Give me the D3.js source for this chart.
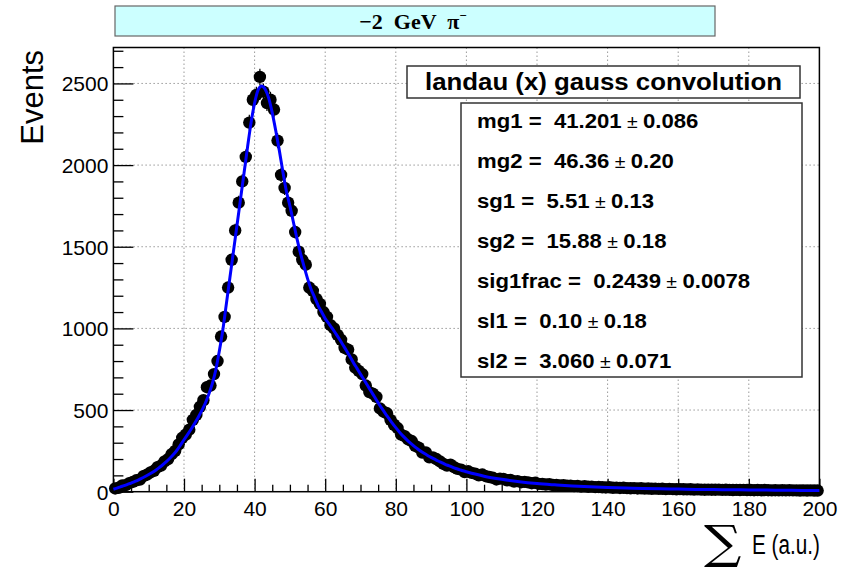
<!DOCTYPE html>
<html><head><meta charset="utf-8">
<script src="https://cdn.jsdelivr.net/npm/d3@7"></script>
<style>body{margin:0;background:#fff} svg{display:block}</style>
</head><body>
<svg id="c" width="844" height="572"></svg>
<script>
// ---------------- data ----------------
const binWidth = 1;
const events = [
  20, 24, 38, 40, 52, 60, 70, 74, 95, 104,
  118, 128, 150, 160, 185, 200, 230, 250, 290, 330,
  350, 380, 440, 470, 520, 560, 640, 650, 720, 800,
  950, 1070, 1250, 1420, 1600, 1770, 1900, 2050, 2260, 2400,
  2430, 2540, 2450, 2380, 2400, 2340, 2150, 1940, 1860, 1770,
  1720, 1590, 1470, 1420, 1390, 1250, 1230, 1180, 1150, 1100,
  1070, 1020, 1000, 960, 930, 880, 870, 810, 760, 740,
  720, 650, 610, 600, 580, 510, 490, 480, 440, 410,
  390, 350, 340, 320, 310, 280, 270, 240, 240, 210,
  210, 200, 185, 170, 160, 165, 150, 140, 135, 120,
  125, 115, 110, 100, 105, 95, 90, 85, 75, 80,
  78, 70, 72, 62, 65, 58, 60, 57, 52, 55,
  48, 47, 44, 46, 41, 42, 38, 40, 36, 37,
  34, 35, 31, 33, 30, 31, 28, 29, 27, 26,
  27, 24, 25, 23, 24, 22, 21, 22, 20, 21,
  19, 20, 18, 19, 17, 18, 16, 17, 16, 15,
  16, 15, 14, 15, 13, 14, 13, 12, 13, 12,
  12, 13, 11, 12, 11, 10, 11, 10, 11, 10,
  10, 9, 10, 9, 10, 9, 8, 9, 8, 9,
  8, 9, 8, 8, 7, 8, 7, 8, 7, 7
];
const binCenters = events.map((_, i) => (i + 0.5) * binWidth);

const fitE = [0,1,2,3,4,5,6,7,8,9,10,11,12,13,14,15,16,17,18,19,20,21,22,23,24,25,26,27,28,29,30,
  31,32,33,34,35,36,37,38,39,40,41,42,43,44,45,46,47,48,49,50,51,52,53,54,55,56,57,58,59,60,
  61,62,63,64,65,66,67,68,69,70,71,72,73,74,75,76,77,78,79,80,81,82,83,84,85,86,87,88,89,90,
  91,92,93,94,95,96,97,98,99,100,105,110,115,120,125,130,135,140,145,150,155,160,165,170,175,180,185,190,195,200];
const fitEvents = [15,22,30,37,45,53,62,71,82,93,105,118,132,148,165,184,205,228,254,285,318,350,382,418,455,495,540,595,660,745,860,
  990,1150,1310,1470,1630,1790,1950,2110,2260,2380,2460,2485,2465,2410,2320,2210,2090,1960,1840,1750,1650,1550,1460,1380,1305,1240,1190,1140,1100,1060,
  1030,1000,968,935,900,865,828,790,755,720,685,650,615,580,545,512,480,450,420,392,366,342,320,300,282,265,249,235,222,210,
  199,188,178,168,159,150,142,135,128,122,95,76,61,50,42,35,30,26,23,20,18,16,14,13,12,11,10,9,8,8];

const xTicks = [0,20,40,60,80,100,120,140,160,180,200];
const yTicks = [0,500,1000,1500,2000,2500];
const paramNames  = ["mg1", "mg2", "sg1", "sg2", "sig1frac", "sl1", "sl2"];
const paramValues = ["41.201", "46.36", "5.51", "15.88", "0.2439", "0.10", "3.060"];
const paramErrors = ["0.086", "0.20", "0.13", "0.18", "0.0078", "0.18", "0.071"];
const titleText = "−2  GeV  π";
const legendTitle = "landau (x) gauss convolution";

// ---------------- chart ----------------
const svg = d3.select("#c");
const L = 113.4, R = 819.4, T = 47.5, B = 491.7;
const x = d3.scaleLinear().domain([0, 200]).range([L, R]);
const y = d3.scaleLinear().domain([0, 2720]).range([B, T]);

// grid
const grid = svg.append("g").attr("stroke", "#9a9a9a").attr("stroke-width", 1).attr("stroke-dasharray", "1.5,2.5");
grid.selectAll(".gx").data(xTicks.filter(t => t > 0 && t < 200)).join("line")
  .attr("x1", d => x(d)).attr("x2", d => x(d)).attr("y1", T).attr("y2", B);
grid.selectAll(".gy").data(yTicks.filter(t => t > 0)).join("line")
  .attr("x1", L).attr("x2", R).attr("y1", d => y(d)).attr("y2", d => y(d));

// axes (ticks inside)
const font = "'Liberation Sans', Arial, Helvetica, sans-serif";
const xMinor = d3.range(0, 201, 5).filter(v => v % 20 !== 0);
const yMinor = d3.range(0, 2701, 100).filter(v => v % 500 !== 0);

const gx = svg.append("g").attr("transform", `translate(0,${B})`);
gx.call(d3.axisBottom(x).tickValues(xTicks).tickSize(-13).tickPadding(20).tickFormat(d3.format("d")));
const gxm = svg.append("g").attr("transform", `translate(0,${B})`);
gxm.call(d3.axisBottom(x).tickValues(xMinor).tickSize(-7).tickFormat(""));
const gy = svg.append("g").attr("transform", `translate(${L},0)`);
gy.call(d3.axisLeft(y).tickValues(yTicks).tickSize(-20).tickPadding(5).tickFormat(d3.format("d")));
const gym = svg.append("g").attr("transform", `translate(${L},0)`);
gym.call(d3.axisLeft(y).tickValues(yMinor).tickSize(-10).tickFormat(""));
[gx, gxm, gy, gym].forEach(g => {
  g.select(".domain").remove();
  g.selectAll("line").attr("stroke", "#000").attr("stroke-width", 1.3);
  g.selectAll("text").attr("fill", "#000").style("font-family", font).style("font-size", "21px");
});
gx.selectAll("text").attr("dy", "0.2em");
gy.selectAll("text").attr("dy", "0.36em");

// frame
svg.append("rect").attr("x", L).attr("y", T).attr("width", R - L).attr("height", B - T)
  .attr("fill", "none").attr("stroke", "#000").attr("stroke-width", 1.5);

// data points with error bars
const pts = svg.append("g");
pts.selectAll("line").data(events).join("line")
  .attr("x1", (d, i) => x(binCenters[i])).attr("x2", (d, i) => x(binCenters[i]))
  .attr("y1", d => y(d + Math.sqrt(d))).attr("y2", d => y(Math.max(0, d - Math.sqrt(d))))
  .attr("stroke", "#000").attr("stroke-width", 1.2);
pts.selectAll("circle").data(events).join("circle")
  .attr("cx", (d, i) => x(binCenters[i])).attr("cy", d => y(d)).attr("r", 6.2).attr("fill", "#000");

// fit curve
const line = d3.line().x((d, i) => x(fitE[i])).y(d => y(d)).curve(d3.curveMonotoneX);
svg.append("path").datum(fitEvents).attr("d", line)
  .attr("fill", "none").attr("stroke", "#0000ff").attr("stroke-width", 3);

// title box
svg.append("rect").attr("x", 115).attr("y", 6).attr("width", 600).attr("height", 30)
  .attr("fill", "#ccffff").attr("stroke", "#666").attr("stroke-width", 1.2);
const tt = svg.append("text").attr("x", 413).attr("y", 28.5).attr("text-anchor", "middle")
  .style("font-family", "'Liberation Serif', 'Times New Roman', serif").style("font-weight", "bold")
  .style("font-size", "22px").attr("fill", "#000").attr("xml:space", "preserve");
tt.append("tspan").text(titleText);
tt.append("tspan").attr("dy", -9).style("font-size", "13px").text("−");

// axis titles
svg.append("text").attr("transform", "translate(43,50) rotate(-90)").attr("text-anchor", "end")
  .style("font-family", font).style("font-size", "31px").attr("fill", "#000").text("Events");
svg.append("text").attr("transform", "translate(704,558) scale(0.97,0.85)")
  .style("font-family", "'DejaVu Serif', serif").style("font-size", "54px").attr("fill", "#000").text("∑");
svg.append("text").attr("transform", "translate(752,554) scale(0.74,1)")
  .style("font-family", font).style("font-size", "28px").attr("fill", "#000").text("E (a.u.)");

// legend title box
svg.append("rect").attr("x", 407).attr("y", 66).attr("width", 393).attr("height", 32)
  .attr("fill", "#fff").attr("stroke", "#333").attr("stroke-width", 1.5);
svg.append("text").attr("x", 425).attr("y", 90)
  .attr("textLength", 357).attr("lengthAdjust", "spacingAndGlyphs")
  .style("font-family", font).style("font-weight", "bold").style("font-size", "23.5px")
  .attr("fill", "#000").text(legendTitle);

// parameter box
svg.append("rect").attr("x", 461).attr("y", 103).attr("width", 341).attr("height", 274)
  .attr("fill", "#fff").attr("stroke", "#333").attr("stroke-width", 1.5);
const pg = svg.append("g").attr("transform", "translate(477,0) scale(1.08,1)");
paramNames.forEach((n, i) => {
  const t = pg.append("text").attr("x", 0).attr("y", 128 + i * 40)
    .style("font-family", font).style("font-weight", "bold").style("font-size", "20.5px")
    .attr("fill", "#000").attr("xml:space", "preserve");
  t.append("tspan").text(`${n} =  ${paramValues[i]}`);
  t.append("tspan").style("font-weight", "normal").style("font-size", "18px").text(" ± ");
  t.append("tspan").text(paramErrors[i]);
});
</script>
</body></html>
